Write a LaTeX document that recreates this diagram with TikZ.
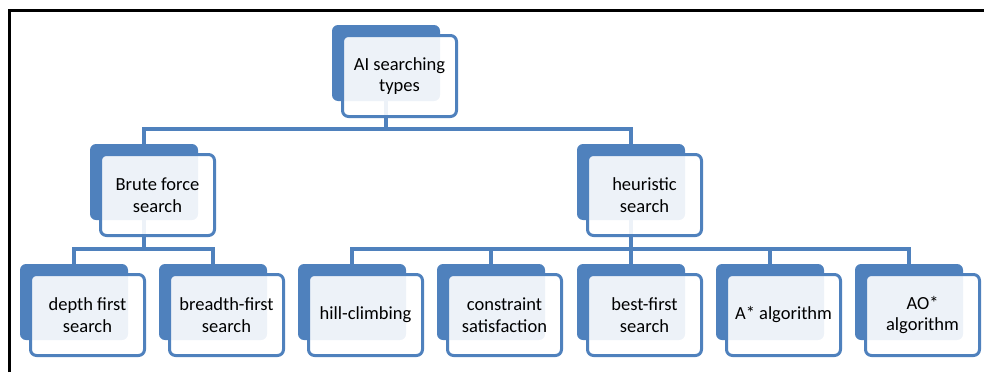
\documentclass[tikz,border=0pt]{standalone}
\usepackage{fontspec}
\setmainfont{Carlito}
\usetikzlibrary{backgrounds}
\definecolor{sablue}{RGB}{79,129,189}
\newcommand{\mknode}[4]{%
  \node[backbox] (b#1) at (#2,#3) {};
  \node[frontbox] (#1) at (#2+10.5,#3+10.5) {#4};}
\begin{document}
\begin{tikzpicture}[x=1pt,y=-1pt,
  backbox/.style={fill=sablue, draw=none, rounded corners=6pt,
    minimum width=108pt, minimum height=76pt, anchor=north west,
    inner sep=0pt, outer sep=0pt},
  frontbox/.style={draw=sablue, line width=3pt, fill=white, fill opacity=0.9,
    text opacity=1, rounded corners=6pt, minimum width=114pt,
    minimum height=81pt, anchor=north west, inner sep=2pt, outer sep=0pt,
    align=center, font=\fontsize{18.5}{21.5}\selectfont, text=black},
  conn/.style={draw=sablue, line width=3.3pt},
  frame/.style={draw=black, line width=3pt, line join=miter}]
\useasboundingbox (0,0) rectangle (984,372);
\draw[frame] (9.5,372) -- (9.5,10.5) -- (984,10.5);
\mknode{top}{332}{25}{AI searching\\types}
\mknode{brute}{90}{144}{Brute force\\search}
\mknode{heur}{577}{144}{heuristic\\search}
\mknode{dfs}{20}{264}{depth first\\search}
\mknode{bfs}{159}{264}{breadth-first\\search}
\mknode{hill}{298}{264}{hill-climbing}
\mknode{csp}{437}{264}{constraint\\satisfaction}
\mknode{bestfs}{577}{264}{best-first\\search}
\mknode{astar}{716}{264}{A* algorithm}
\mknode{aostar}{855}{264}{AO*\\algorithm}
\begin{pgfonlayer}{background}
\draw[conn] (btop.south) -- ++(0,28) -| (bbrute.north);
\draw[conn] (btop.south) -- ++(0,28) -| (bheur.north);
\foreach \c in {dfs,bfs}
  \draw[conn] (bbrute.south) -- ++(0,29) -| (b\c.north);
\foreach \c in {hill,csp,bestfs,astar,aostar}
  \draw[conn] (bheur.south) -- ++(0,29) -| (b\c.north);
\end{pgfonlayer}
\end{tikzpicture}
\end{document}
